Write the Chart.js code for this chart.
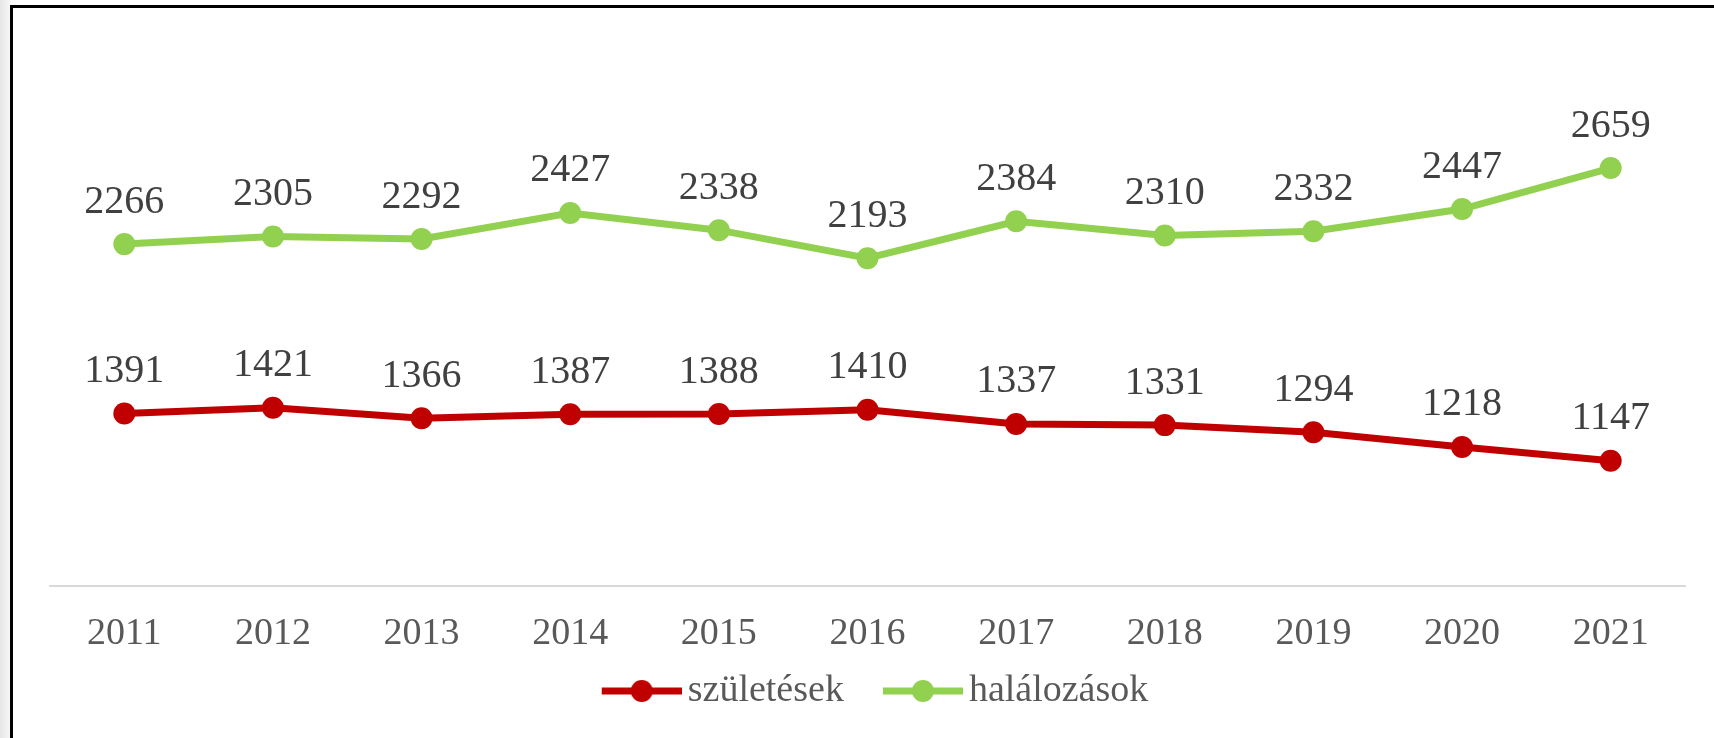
<!DOCTYPE html>
<html>
<head>
<meta charset="utf-8">
<title>Születések és halálozások</title>
<script src="https://cdn.jsdelivr.net/npm/chart.js@4"></script>
<style>
  html, body { margin: 0; padding: 0; background: #fff; overflow: hidden; }
  #shade { position: absolute; left: 0; top: 0; width: 10px; height: 738px; background: linear-gradient(to right, #e6e6e6, #f7f7f7); }
  #frame { position: absolute; left: 10px; top: 5px; width: 1720px; height: 760px; border-left: 3px solid #000; border-top: 3px solid #000; }
  #wrap { position: absolute; left: 0; top: 0; width: 1714px; height: 738px; }
</style>
</head>
<body>
<div id="shade"></div>
<div id="frame"></div>
<div id="wrap"><canvas id="popChart"></canvas></div>
<script>
var years = ['2011', '2012', '2013', '2014', '2015', '2016', '2017', '2018', '2019', '2020', '2021'];
var births = [1391, 1421, 1366, 1387, 1388, 1410, 1337, 1331, 1294, 1218, 1147];
var deaths = [2266, 2305, 2292, 2427, 2338, 2193, 2384, 2310, 2332, 2447, 2659];
var seriesNames = ['születések', 'halálozások'];
var seriesColors = ['#c00000', '#92d050'];

var serif = '"Liberation Serif", "Times New Roman", serif';

// legend icon: a short line with a dot in the middle, like the Excel legend
function legendIcon(color) {
    var c = document.createElement('canvas');
    c.width = 108;
    c.height = 26;
    var g = c.getContext('2d');
    g.strokeStyle = color;
    g.lineWidth = 7;
    g.beginPath();
    g.moveTo(28, 13);
    g.lineTo(108, 13);
    g.stroke();
    g.fillStyle = color;
    g.beginPath();
    g.arc(68, 13, 11, 0, Math.PI * 2);
    g.fill();
    return c;
}
var icons = [legendIcon(seriesColors[0]), legendIcon(seriesColors[1])];

// numbers above every point
var valueLabels = {
    id: 'valueLabels',
    afterDatasetsDraw: function(chart) {
        var ctx = chart.ctx;
        ctx.save();
        ctx.font = '40px ' + serif;
        ctx.fillStyle = '#404040';
        ctx.textAlign = 'center';
        ctx.textBaseline = 'middle';
        chart.data.datasets.forEach(function(ds, i) {
            chart.getDatasetMeta(i).data.forEach(function(pt, j) {
                ctx.fillText(ds.data[j], pt.x, pt.y - 42);
            });
        });
        ctx.restore();
    }
};

var ctx = document.getElementById('popChart').getContext('2d');
var chart = new Chart(ctx, {
    type: 'line',
    data: {
        labels: years,
        datasets: [{
            label: seriesNames[0],
            data: births,
            borderColor: seriesColors[0],
            backgroundColor: seriesColors[0],
            borderWidth: 7,
            pointRadius: 11,
            pointBorderWidth: 0,
            tension: 0
        }, {
            label: seriesNames[1],
            data: deaths,
            borderColor: seriesColors[1],
            backgroundColor: seriesColors[1],
            borderWidth: 7,
            pointRadius: 11,
            pointBorderWidth: 0,
            tension: 0
        }]
    },
    options: {
        responsive: true,
        maintainAspectRatio: false,
        animation: false,
        events: [],
        layout: {
            padding: { left: 50, right: 29, top: 102, bottom: 18 }
        },
        scales: {
            x: {
                offset: true,
                grid: { display: false, drawTicks: false },
                border: { display: true, color: '#d9d9d9', width: 2 },
                ticks: {
                    color: '#595959',
                    font: { family: serif, size: 38 },
                    padding: 25,
                    maxRotation: 0,
                    autoSkip: false
                },
                afterFit: function(scale) {
                    scale.height = 62;
                }
            },
            y: {
                display: false,
                min: 500,
                max: 3000
            }
        },
        plugins: {
            tooltip: { enabled: false },
            legend: {
                position: 'bottom',
                labels: {
                    color: '#595959',
                    font: { family: serif, size: 38 },
                    usePointStyle: true,
                    pointStyleWidth: 82,
                    padding: 24,
                    generateLabels: function(chart) {
                        var items = Chart.defaults.plugins.legend.labels.generateLabels(chart);
                        items.forEach(function(item, i) {
                            item.pointStyle = icons[i];
                        });
                        return items;
                    }
                }
            }
        }
    },
    plugins: [valueLabels]
});
</script>
</body>
</html>
